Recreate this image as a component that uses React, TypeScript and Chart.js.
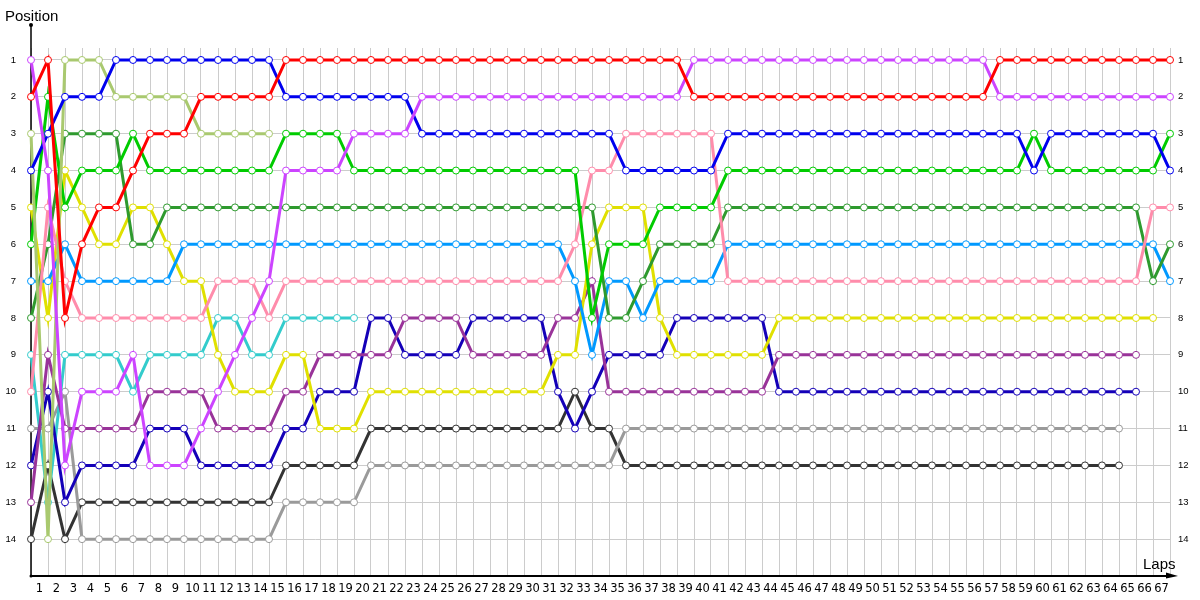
import React, { useEffect, useRef } from 'react';
import { Chart, registerables } from 'chart.js';

Chart.register(...registerables);

// Lap numbers (lap 0 = start grid)
const laps = [
  0, 1, 2, 3, 4, 5, 6, 7, 8, 9, 10, 11, 12, 13, 14, 15, 16, 17, 18, 19, 20, 21, 22, 23, 24, 25, 26, 27, 28, 29, 30, 31, 32, 33,
  34, 35, 36, 37, 38, 39, 40, 41, 42, 43, 44, 45, 46, 47, 48, 49, 50, 51, 52, 53, 54, 55, 56, 57, 58, 59, 60, 61, 62, 63, 64, 65, 66, 67,
];
const positionTicks = [1, 2, 3, 4, 5, 6, 7, 8, 9, 10, 11, 12, 13, 14];

// Position per lap for each car
const red = [2, 1, 8, 6, 5, 5, 4, 3, 3, 3, 2, 2, 2, 2, 2, 1, 1, 1, 1, 1, 1, 1, 1, 1, 1, 1, 1, 1, 1, 1, 1, 1, 1, 1, 1, 1, 1, 1, 1, 2, 2, 2, 2, 2, 2, 2, 2, 2, 2, 2, 2, 2, 2, 2, 2, 2, 2, 1, 1, 1, 1, 1, 1, 1, 1, 1, 1, 1];
const violet = [1, 4, 12, 10, 10, 10, 9, 12, 12, 12, 11, 10, 9, 8, 7, 4, 4, 4, 4, 3, 3, 3, 3, 2, 2, 2, 2, 2, 2, 2, 2, 2, 2, 2, 2, 2, 2, 2, 2, 1, 1, 1, 1, 1, 1, 1, 1, 1, 1, 1, 1, 1, 1, 1, 1, 1, 1, 2, 2, 2, 2, 2, 2, 2, 2, 2, 2, 2];
const blue = [4, 3, 2, 2, 2, 1, 1, 1, 1, 1, 1, 1, 1, 1, 1, 2, 2, 2, 2, 2, 2, 2, 2, 3, 3, 3, 3, 3, 3, 3, 3, 3, 3, 3, 3, 4, 4, 4, 4, 4, 4, 3, 3, 3, 3, 3, 3, 3, 3, 3, 3, 3, 3, 3, 3, 3, 3, 3, 3, 4, 3, 3, 3, 3, 3, 3, 3, 4];
const green = [6, 2, 5, 4, 4, 4, 3, 4, 4, 4, 4, 4, 4, 4, 4, 3, 3, 3, 3, 4, 4, 4, 4, 4, 4, 4, 4, 4, 4, 4, 4, 4, 4, 8, 6, 6, 6, 5, 5, 5, 5, 4, 4, 4, 4, 4, 4, 4, 4, 4, 4, 4, 4, 4, 4, 4, 4, 4, 4, 3, 4, 4, 4, 4, 4, 4, 4, 3];
const pink = [10, 5, 7, 8, 8, 8, 8, 8, 8, 8, 8, 7, 7, 7, 8, 7, 7, 7, 7, 7, 7, 7, 7, 7, 7, 7, 7, 7, 7, 7, 7, 7, 6, 4, 4, 3, 3, 3, 3, 3, 3, 7, 7, 7, 7, 7, 7, 7, 7, 7, 7, 7, 7, 7, 7, 7, 7, 7, 7, 7, 7, 7, 7, 7, 7, 7, 5, 5];
const darkGreen = [8, 6, 3, 3, 3, 3, 6, 6, 5, 5, 5, 5, 5, 5, 5, 5, 5, 5, 5, 5, 5, 5, 5, 5, 5, 5, 5, 5, 5, 5, 5, 5, 5, 5, 8, 8, 7, 6, 6, 6, 6, 5, 5, 5, 5, 5, 5, 5, 5, 5, 5, 5, 5, 5, 5, 5, 5, 5, 5, 5, 5, 5, 5, 5, 5, 5, 7, 6];
const skyBlue = [7, 7, 6, 7, 7, 7, 7, 7, 7, 6, 6, 6, 6, 6, 6, 6, 6, 6, 6, 6, 6, 6, 6, 6, 6, 6, 6, 6, 6, 6, 6, 6, 7, 9, 7, 7, 8, 7, 7, 7, 7, 6, 6, 6, 6, 6, 6, 6, 6, 6, 6, 6, 6, 6, 6, 6, 6, 6, 6, 6, 6, 6, 6, 6, 6, 6, 6, 7];
const yellow = [5, 8, 4, 5, 6, 6, 5, 5, 6, 7, 7, 9, 10, 10, 10, 9, 9, 11, 11, 11, 10, 10, 10, 10, 10, 10, 10, 10, 10, 10, 10, 9, 9, 6, 5, 5, 5, 8, 9, 9, 9, 9, 9, 9, 8, 8, 8, 8, 8, 8, 8, 8, 8, 8, 8, 8, 8, 8, 8, 8, 8, 8, 8, 8, 8, 8, 8];
const purple = [13, 9, 11, 11, 11, 11, 11, 10, 10, 10, 10, 11, 11, 11, 11, 10, 10, 9, 9, 9, 9, 9, 8, 8, 8, 8, 9, 9, 9, 9, 9, 8, 8, 7, 10, 10, 10, 10, 10, 10, 10, 10, 10, 10, 9, 9, 9, 9, 9, 9, 9, 9, 9, 9, 9, 9, 9, 9, 9, 9, 9, 9, 9, 9, 9, 9];
const darkBlue = [12, 10, 13, 12, 12, 12, 12, 11, 11, 11, 12, 12, 12, 12, 12, 11, 11, 10, 10, 10, 8, 8, 9, 9, 9, 9, 8, 8, 8, 8, 8, 10, 11, 10, 9, 9, 9, 9, 8, 8, 8, 8, 8, 8, 10, 10, 10, 10, 10, 10, 10, 10, 10, 10, 10, 10, 10, 10, 10, 10, 10, 10, 10, 10, 10, 10];
const gray = [11, 11, 10, 14, 14, 14, 14, 14, 14, 14, 14, 14, 14, 14, 14, 13, 13, 13, 13, 13, 12, 12, 12, 12, 12, 12, 12, 12, 12, 12, 12, 12, 12, 12, 12, 11, 11, 11, 11, 11, 11, 11, 11, 11, 11, 11, 11, 11, 11, 11, 11, 11, 11, 11, 11, 11, 11, 11, 11, 11, 11, 11, 11, 11, 11];
const darkGray = [14, 12, 14, 13, 13, 13, 13, 13, 13, 13, 13, 13, 13, 13, 13, 12, 12, 12, 12, 12, 11, 11, 11, 11, 11, 11, 11, 11, 11, 11, 11, 11, 10, 11, 11, 12, 12, 12, 12, 12, 12, 12, 12, 12, 12, 12, 12, 12, 12, 12, 12, 12, 12, 12, 12, 12, 12, 12, 12, 12, 12, 12, 12, 12, 12];
const olive = [3, 14, 1, 1, 1, 2, 2, 2, 2, 2, 3, 3, 3, 3, 3];
const cyan = [9, 13, 9, 9, 9, 9, 10, 9, 9, 9, 9, 8, 8, 9, 9, 8, 8, 8, 8, 8];

const series = [
  { name: 'red', values: red, color: '#ff0000' },
  { name: 'violet', values: violet, color: '#cc44ff' },
  { name: 'blue', values: blue, color: '#0000ee' },
  { name: 'olive', values: olive, color: '#a9c96f' },
  { name: 'green', values: green, color: '#00cc00' },
  { name: 'pink', values: pink, color: '#ff8cab' },
  { name: 'darkGreen', values: darkGreen, color: '#2e9a2e' },
  { name: 'skyBlue', values: skyBlue, color: '#0099ff' },
  { name: 'yellow', values: yellow, color: '#e0e000' },
  { name: 'purple', values: purple, color: '#993399' },
  { name: 'darkBlue', values: darkBlue, color: '#1400b8' },
  { name: 'cyan', values: cyan, color: '#33cccc' },
  { name: 'gray', values: gray, color: '#9a9a9a' },
  { name: 'darkGray', values: darkGray, color: '#333333' },
];

const axesPlugin = {
  id: 'lapAxes',
  beforeDatasetsDraw(chart: any) {
    const { ctx, chartArea } = chart;
    const { left, right, top, bottom } = chartArea;
    ctx.save();
    ctx.strokeStyle = '#000';
    ctx.fillStyle = '#000';
    // vertical axis with dot at its top
    ctx.lineWidth = 1.5;
    ctx.beginPath();
    ctx.moveTo(left, top - 23);
    ctx.lineTo(left, bottom);
    ctx.stroke();
    ctx.beginPath();
    ctx.arc(left, top - 23, 2, 0, Math.PI * 2);
    ctx.fill();
    ctx.beginPath();
    ctx.arc(left, bottom, 1.5, 0, Math.PI * 2);
    ctx.fill();
    // horizontal axis with arrow
    ctx.lineWidth = 2;
    ctx.beginPath();
    ctx.moveTo(left, bottom);
    ctx.lineTo(right + 2, bottom);
    ctx.stroke();
    ctx.beginPath();
    ctx.moveTo(right + 8, bottom);
    ctx.lineTo(right - 4, bottom - 3.5);
    ctx.lineTo(right - 4, bottom + 2.5);
    ctx.closePath();
    ctx.fill();
    // titles
    ctx.font = '15px "Liberation Sans"';
    ctx.textBaseline = 'alphabetic';
    ctx.textAlign = 'left';
    ctx.fillText('Position', 5, 21);
    ctx.fillText('Laps', right - 27, bottom - 7);
    ctx.restore();
  },
};

export default function App() {
  const ref = useRef<HTMLCanvasElement>(null);
  useEffect(() => {
    const setTicks = (axis: any) => {
      axis.ticks = positionTicks.map((v) => ({ value: v }));
    };
    const chart = new Chart(ref.current as HTMLCanvasElement, {
      type: 'line',
      data: {
        datasets: series.map((s) => ({
          label: s.name,
          data: s.values.map((p, i) => ({ x: laps[i], y: p })),
          borderColor: s.color,
          backgroundColor: s.color,
          borderWidth: 3,
          tension: 0,
          pointRadius: 3.5,
          pointBorderWidth: 1,
          pointBackgroundColor: '#ffffff',
          pointBorderColor: s.color,
          clip: false as any,
          yAxisID: 'y',
          xAxisID: 'x',
        })),
      },
      options: {
        animation: false,
        responsive: false,
        events: [],
        layout: { padding: { top: 48, left: 0, right: 0, bottom: 0 } },
        plugins: { legend: { display: false }, tooltip: { enabled: false } },
        scales: {
          x: {
            type: 'linear',
            position: 'bottom',
            min: 0,
            max: 67,
            border: { display: false },
            grid: { color: '#cccccc', lineWidth: 1, drawTicks: false },
            ticks: {
              stepSize: 1,
              autoSkip: false,
              maxRotation: 0,
              minRotation: 0,
              labelOffset: -8.5,
              padding: 6,
              color: '#000',
              font: { family: 'DejaVu Sans', size: 11.5 },
              callback: (v: any) => (v === 0 ? '' : String(v)),
            },
            afterFit: (axis: any) => {
              axis.height = 24;
            },
          },
          y: {
            type: 'linear',
            position: 'left',
            reverse: true,
            min: 0.675,
            max: 15,
            border: { display: false },
            grid: { color: '#cccccc', lineWidth: 1, drawTicks: false },
            afterBuildTicks: setTicks,
            ticks: {
              padding: 15,
              color: '#000',
              font: { family: 'Liberation Sans', size: 9.5 },
            },
            afterFit: (axis: any) => {
              axis.width = 31;
            },
          },
          y2: {
            type: 'linear',
            position: 'right',
            reverse: true,
            min: 0.675,
            max: 15,
            border: { display: false },
            grid: { display: false, drawTicks: false },
            afterBuildTicks: setTicks,
            ticks: {
              padding: 8,
              color: '#000',
              font: { family: 'Liberation Sans', size: 9.5 },
            },
            afterFit: (axis: any) => {
              axis.width = 30;
            },
          },
        },
      } as any,
      plugins: [axesPlugin],
    });
    return () => chart.destroy();
  }, []);
  return (
    <div style={{ position: 'absolute', left: 0, top: 0, width: 1200, height: 600, background: '#ffffff' }}>
      <canvas ref={ref} width={1200} height={600} style={{ display: 'block', width: 1200, height: 600 }} />
    </div>
  );
}
